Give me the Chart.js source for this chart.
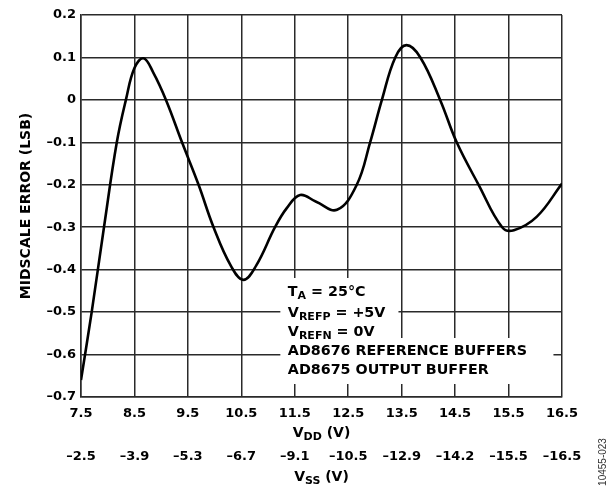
<!DOCTYPE html>
<html>
<head>
<meta charset="utf-8">
<script src="https://cdn.jsdelivr.net/npm/chart.js@4/dist/chart.umd.min.js"></script>
<style>
    body { margin: 0; background: #fff; }
    #wrap { width: 616px; height: 489px; }
</style>
</head>
<body>
<div id="wrap"><canvas id="chart" width="616" height="489"></canvas></div>
<script>
// curve
const vdd = [7.5, 7.70, 7.93, 8.17, 8.34, 8.50, 8.67, 8.85, 9.09, 9.39, 9.70, 9.98, 10.30, 10.54, 10.78, 11.13, 11.35, 11.60, 11.90, 12.29, 12.66, 12.91, 13.13, 13.38, 13.59, 13.85, 14.22, 14.53, 14.94, 15.38, 15.60, 16.03, 16.50];
const midscaleError = [-0.66, -0.50, -0.30, -0.10, 0.00, 0.075, 0.098, 0.065, 0.00, -0.10, -0.20, -0.30, -0.39, -0.424, -0.39, -0.30, -0.255, -0.224, -0.24, -0.259, -0.20, -0.10, 0.00, 0.10, 0.129, 0.10, 0.00, -0.10, -0.20, -0.30, -0.307, -0.275, -0.197];

const vddTicks = [7.5, 8.5, 9.5, 10.5, 11.5, 12.5, 13.5, 14.5, 15.5, 16.5];
const vssLabels = ["\u20132.5", "\u20133.9", "\u20135.3", "\u20136.7", "\u20139.1", "\u201310.5", "\u201312.9", "\u201314.2", "\u201315.5", "\u201316.5"];
const errTicks = [-0.7, -0.6, -0.5, -0.4, -0.3, -0.2, -0.1, 0, 0.1, 0.2];

const gridColor = "#2a2a2a";
const tickFont = { family: "DejaVu Sans", weight: "bold", size: 13 };

function fmtErr(v) {
    if (Math.abs(v) < 1e-9) return "0";
    return (v < 0 ? "\u2013" : "") + Math.abs(v).toFixed(1);
}

// text with a subscript part: [[text, isSub], ...]
function drawParts(ctx, parts, x, y, size, subSize, align) {
    let total = 0;
    parts.forEach(p => {
        ctx.font = "bold " + (p[1] ? subSize : size) + "px 'DejaVu Sans'";
        total += ctx.measureText(p[0]).width;
    });
    let cx = align === "center" ? x - total / 2 : x;
    ctx.textAlign = "left";
    ctx.textBaseline = "middle";
    parts.forEach(p => {
        ctx.font = "bold " + (p[1] ? subSize : size) + "px 'DejaVu Sans'";
        ctx.fillText(p[0], cx, p[1] ? y + 4 : y);
        cx += ctx.measureText(p[0]).width;
    });
}

const notes = {
    id: "notes",
    beforeDatasetsDraw(chart) {
        const ctx = chart.ctx;
        const xs = chart.scales.x;
        ctx.save();
        ctx.fillStyle = "#fff";
        // white box behind the condition text
        ctx.fillRect(xs.getPixelForValue(11.23), 278, xs.getPixelForValue(13.44) - xs.getPixelForValue(11.23), 60);
        ctx.fillRect(xs.getPixelForValue(11.23), 338, xs.getPixelForValue(16.34) - xs.getPixelForValue(11.23), 46);
        ctx.restore();
    },
    afterDraw(chart) {
        const ctx = chart.ctx;
        const xs = chart.scales.x;
        const area = chart.chartArea;
        ctx.save();
        ctx.fillStyle = "#000";
        const tx = xs.getPixelForValue(11.37);
        drawParts(ctx, [["T", false], ["A", true], [" = 25\u00b0C", false]], tx, 292.5, 14.3, 11, "left");
        drawParts(ctx, [["V", false], ["REFP", true], [" = +5V", false]], tx, 313, 14.3, 11, "left");
        drawParts(ctx, [["V", false], ["REFN", true], [" = 0V", false]], tx, 332, 14.3, 11, "left");
        drawParts(ctx, [["AD8676 REFERENCE BUFFERS", false]], tx, 351.5, 14.3, 11, "left");
        drawParts(ctx, [["AD8675 OUTPUT BUFFER", false]], tx, 370.5, 14.3, 11, "left");

        // axis titles with subscripts
        const mid = (area.left + area.right) / 2;
        drawParts(ctx, [["V", false], ["DD", true], [" (V)", false]], mid, 433, 14, 11, "center");
        drawParts(ctx, [["V", false], ["SS", true], [" (V)", false]], mid, 477, 14, 11, "center");

        // figure code
        ctx.translate(603, 462);
        ctx.rotate(-Math.PI / 2);
        ctx.font = "10px 'Liberation Sans'";
        ctx.fillStyle = "#333";
        ctx.textAlign = "center";
        ctx.textBaseline = "middle";
        ctx.fillText("10455-023", 0, 0);
        ctx.restore();
    }
};

new Chart(document.getElementById("chart"), {
    type: "line",
    data: {
        datasets: [{
            data: vdd.map((v, i) => ({ x: v, y: midscaleError[i] })),
            borderColor: "#000",
            borderWidth: 2.6,
            pointRadius: 0,
            fill: false,
            tension: 0.4
        }]
    },
    options: {
        responsive: false,
        animation: false,
        layout: { padding: { top: 15, right: 54, left: 0, bottom: 0 } },
        plugins: { legend: { display: false }, tooltip: { enabled: false } },
        scales: {
            x: {
                type: "linear",
                position: "bottom",
                weight: 0,
                min: 7.5,
                max: 16.5,
                afterBuildTicks: s => { s.ticks = vddTicks.map(v => ({ value: v })); },
                afterFit: s => { s.height = 26; },
                grid: { color: gridColor, lineWidth: 1.5, drawTicks: false },
                border: { color: gridColor, width: 1.5 },
                ticks: { font: tickFont, color: "#000", padding: 9, maxRotation: 0, autoSkip: false, callback: v => String(v) }
            },
            x2: {
                type: "linear",
                position: "bottom",
                weight: 1,
                min: 7.5,
                max: 16.5,
                afterBuildTicks: s => { s.ticks = vddTicks.map(v => ({ value: v })); },
                afterFit: s => { s.height = 66; },
                grid: { display: false, drawTicks: false },
                border: { display: false },
                ticks: { font: tickFont, color: "#000", padding: 26, maxRotation: 0, autoSkip: false, callback: (v, i) => vssLabels[i] }
            },
            y: {
                type: "linear",
                min: -0.7,
                max: 0.2,
                afterBuildTicks: s => { s.ticks = errTicks.map(v => ({ value: v })); },
                afterFit: s => { s.width = 81; },
                grid: { color: gridColor, lineWidth: 1.5, drawTicks: false },
                border: { color: gridColor, width: 1.5 },
                ticks: { font: tickFont, color: "#000", padding: 5, callback: v => fmtErr(v) },
                title: {
                    display: true,
                    text: "MIDSCALE ERROR (LSB)",
                    color: "#000",
                    font: { family: "DejaVu Sans", weight: "bold", size: 14 },
                    padding: { top: 18, bottom: 0 }
                }
            }
        }
    },
    plugins: [notes]
});
</script>
</body>
</html>
